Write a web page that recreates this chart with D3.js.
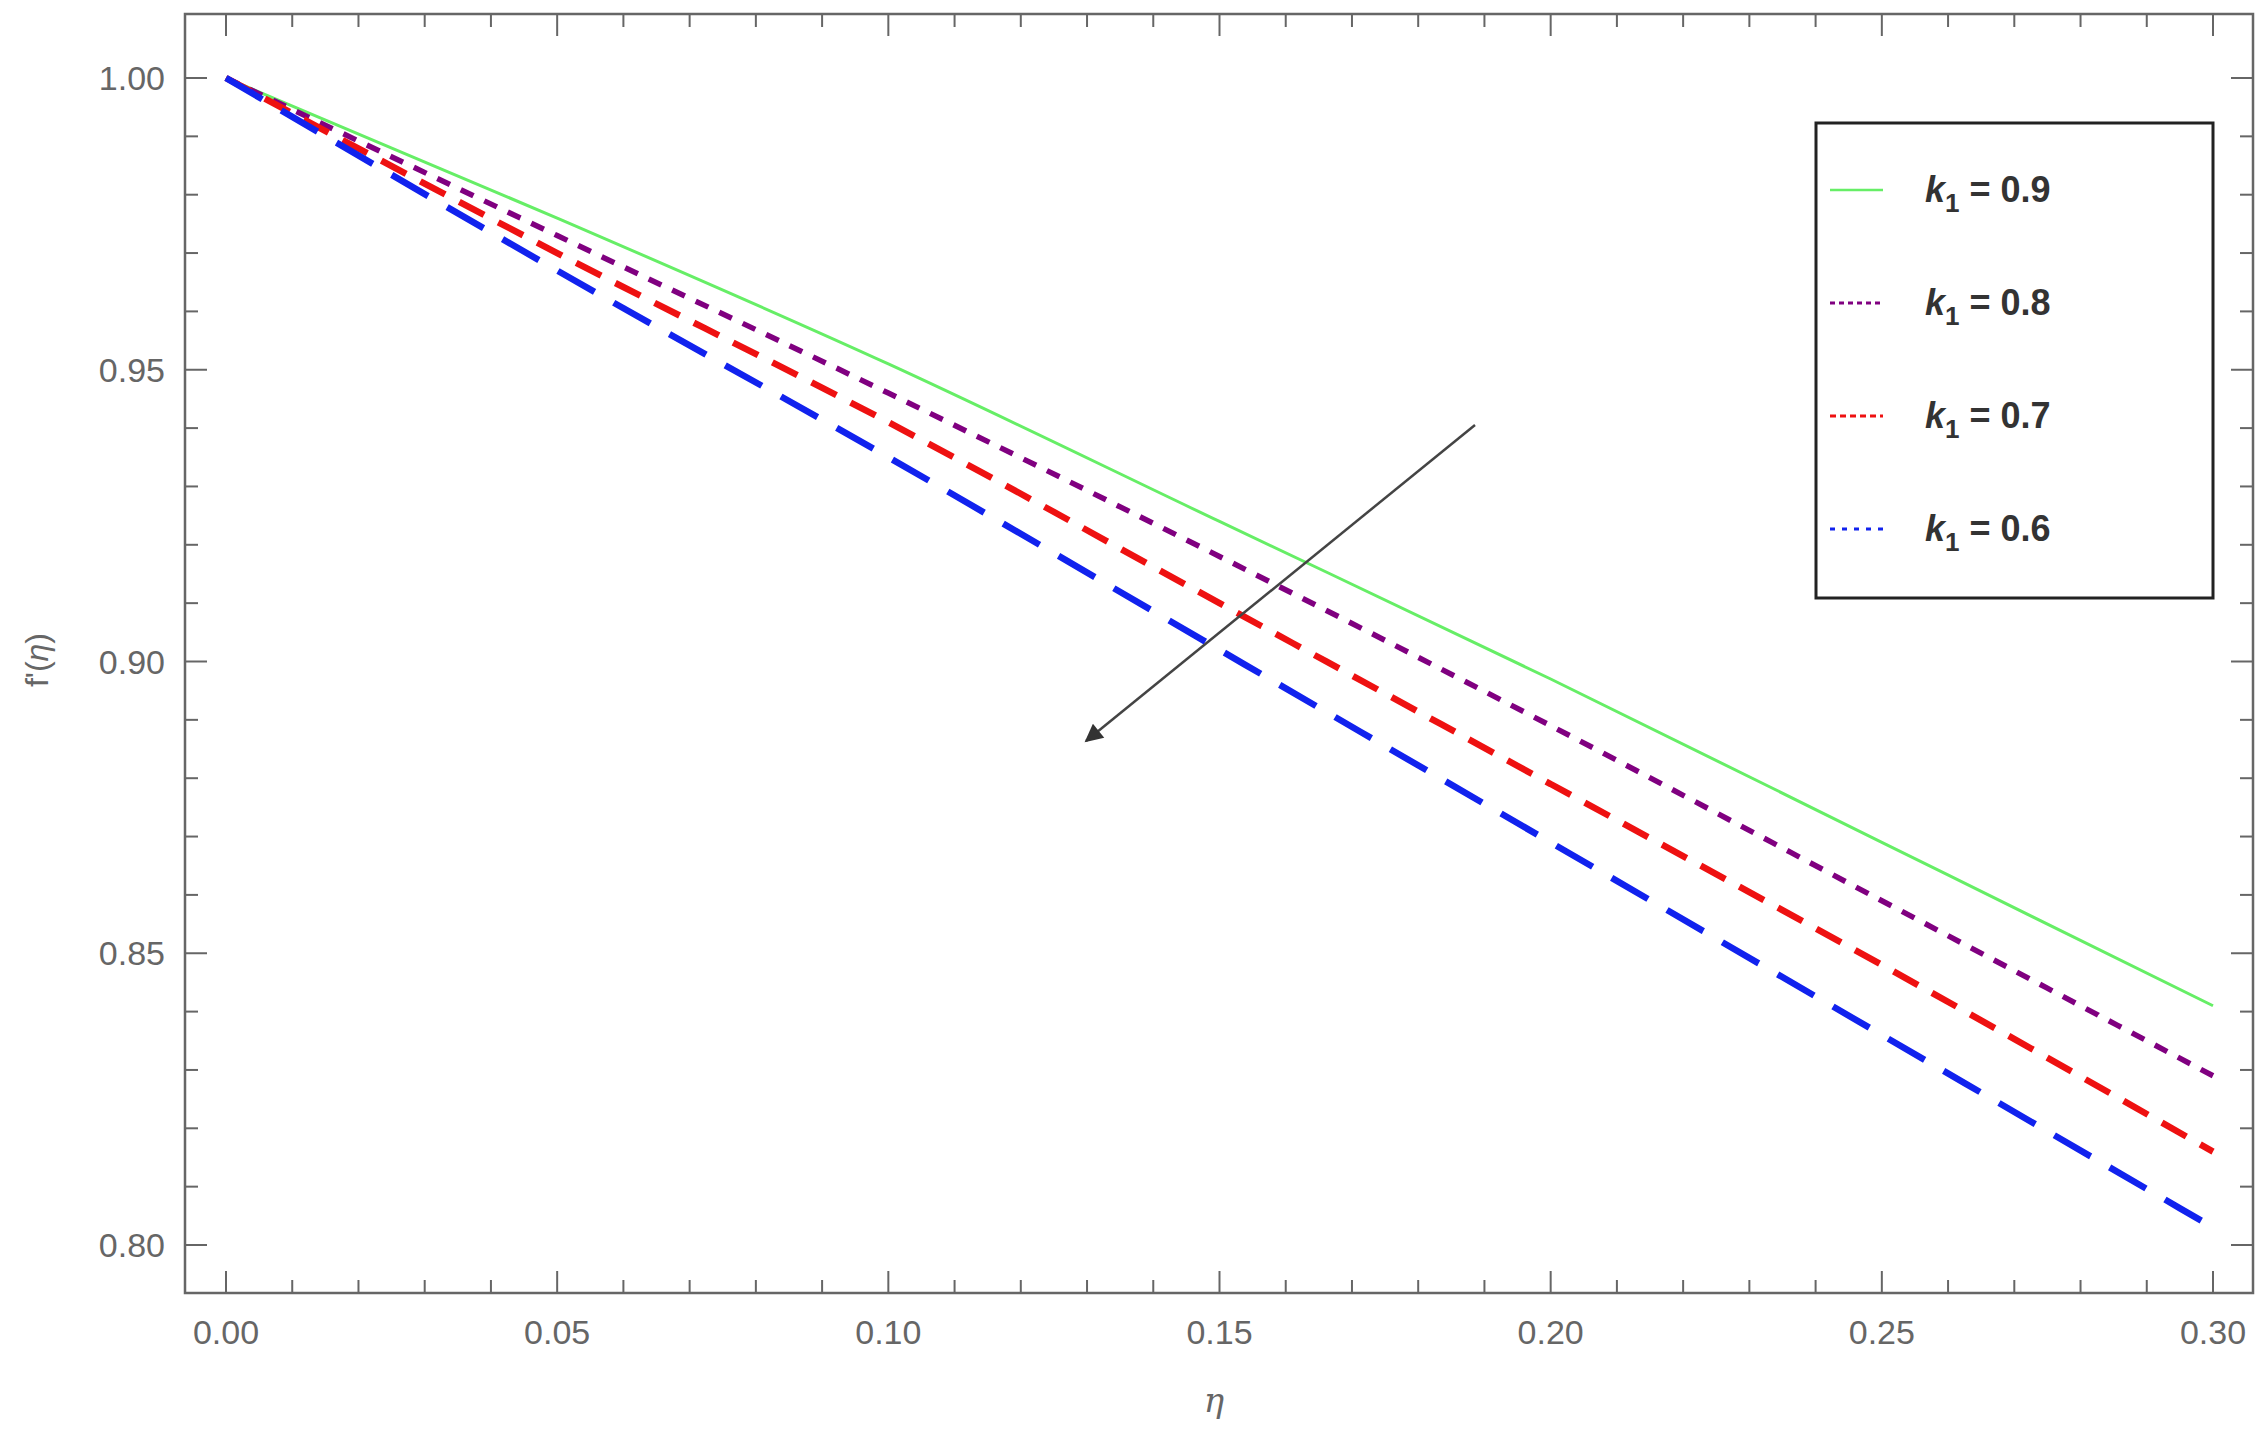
<!DOCTYPE html>
<html><head><meta charset="utf-8">
<script src="https://cdn.jsdelivr.net/npm/d3@7"></script>
<style>body{margin:0;background:#fff}</style></head>
<body><svg id="c" width="2265" height="1436"></svg>
<script>
const etaValues=[0,0.05,0.10,0.15,0.20,0.25,0.30];
const k09=[1,0.976,0.951,0.924,0.897,0.869,0.841];
const k08=[1,0.973,0.946,0.918,0.889,0.859,0.829];
const k07=[1,0.970,0.941,0.910,0.879,0.848,0.816];
const k06=[1,0.967,0.935,0.902,0.869,0.836,0.803];
const seriesLabels=["0.9","0.8","0.7","0.6"];
const xTicks=[0,0.05,0.10,0.15,0.20,0.25,0.30];
const yTicks=[0.80,0.85,0.90,0.95,1.00];

const svg=d3.select("#c");
const L=185,R=2253,T=14,B=1293;
const x=d3.scaleLinear().domain([0,0.3]).range([226,2213]);
const y=d3.scaleLinear().domain([0.8,1.0]).range([1245,78]);
const gray="#666";
const styles=[
 {c:"#66ee66",w:3,d:null,ld:null},
 {c:"#800080",w:5.5,d:"14,12",ld:"5,4"},
 {c:"#ee1111",w:6.5,d:"28,16",ld:"6,4"},
 {c:"#1122ee",w:6.5,d:"42,22",ld:"5,7"}];
const data=[k09,k08,k07,k06];

svg.append("rect").attr("x",L).attr("y",T).attr("width",R-L).attr("height",B-T)
 .attr("fill","none").attr("stroke",gray).attr("stroke-width",2.5);
const xminor=d3.range(0,0.3001,0.01), yminor=d3.range(0.8,1.0001,0.01);
const tk=svg.append("g").attr("stroke",gray).attr("stroke-width",2);
xminor.forEach((v,i)=>{const len=i%5==0?22:13;
 tk.append("line").attr("x1",x(v)).attr("x2",x(v)).attr("y1",B).attr("y2",B-len);
 tk.append("line").attr("x1",x(v)).attr("x2",x(v)).attr("y1",T).attr("y2",T+len);});
yminor.forEach((v,i)=>{const len=i%5==0?22:13;
 tk.append("line").attr("y1",y(v)).attr("y2",y(v)).attr("x1",L).attr("x2",L+len);
 tk.append("line").attr("y1",y(v)).attr("y2",y(v)).attr("x1",R).attr("x2",R-len);});
const fnt="Liberation Sans, Arial, sans-serif";
svg.append("g").selectAll("text").data(xTicks).join("text")
 .attr("x",d=>x(d)).attr("y",1344).attr("text-anchor","middle").attr("font-family",fnt)
 .attr("font-size",34).attr("fill",gray).text(d=>d.toFixed(2));
svg.append("g").selectAll("text").data(yTicks).join("text")
 .attr("x",165).attr("y",d=>y(d)+12).attr("text-anchor","end").attr("font-family",fnt)
 .attr("font-size",34).attr("fill",gray).text(d=>d.toFixed(2));
svg.append("text").attr("x",1214).attr("y",1412).attr("text-anchor","middle")
 .attr("font-family","DejaVu Serif, serif").attr("font-style","italic").attr("font-size",34).attr("fill",gray).text("η");
svg.append("text").attr("transform","translate(48,660) rotate(-90)").attr("text-anchor","middle")
 .attr("font-family",fnt).attr("font-size",32).attr("fill",gray)
 .html("f'(<tspan font-style='italic'>η</tspan>)");
const line=d3.line().x((d,i)=>x(etaValues[i])).y(d=>y(d)).curve(d3.curveMonotoneX);
data.forEach((s,i)=>{
 svg.append("path").datum(s).attr("d",line).attr("fill","none")
  .attr("stroke",styles[i].c).attr("stroke-width",styles[i].w)
  .attr("stroke-dasharray",styles[i].d);
});
svg.append("defs").append("marker").attr("id","ah").attr("viewBox","0 0 10 10").attr("refX",9).attr("refY",5)
 .attr("markerUnits","userSpaceOnUse").attr("orient","auto")
 .attr("markerWidth",26).attr("markerHeight",18)
 .append("path").attr("d","M0,0 L10,5 L0,10 z").attr("fill","#333");
svg.append("line").attr("x1",1475).attr("y1",425).attr("x2",1086).attr("y2",741)
 .attr("stroke","#444").attr("stroke-width",2.5).attr("marker-end","url(#ah)");
svg.append("rect").attr("x",1816).attr("y",123).attr("width",397).attr("height",475)
 .attr("fill","#fff").attr("stroke","#222").attr("stroke-width",3);
seriesLabels.forEach((lab,i)=>{
 const yy=190+i*113;
 svg.append("line").attr("x1",1830).attr("x2",1883).attr("y1",yy).attr("y2",yy)
  .attr("stroke",styles[i].c).attr("stroke-width",i==0?2.5:3).attr("stroke-dasharray",styles[i].ld);
 const t=svg.append("text").attr("x",1925).attr("y",yy+12).attr("font-family",fnt)
  .attr("font-weight","bold").attr("font-size",36).attr("fill","#333");
 t.append("tspan").attr("font-style","italic").text("k");
 t.append("tspan").attr("font-size",26).attr("dy",10).text("1");
 t.append("tspan").attr("dy",-10).text(" = "+lab);
});
</script></body></html>
